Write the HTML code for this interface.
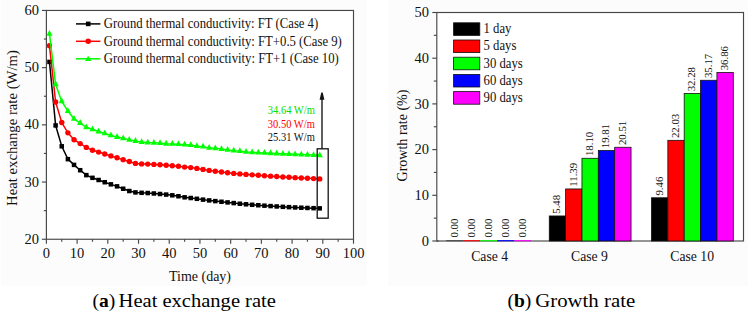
<!DOCTYPE html><html><head><meta charset="utf-8"><style>html,body{margin:0;padding:0;background:#fff;}svg{display:block;}</style></head><body>
<svg width="748" height="316" viewBox="0 0 748 316" style="font-family:&quot;Liberation Serif&quot;, serif;">
<rect x="0" y="0" width="748" height="316" fill="#ffffff"/>
<rect x="1" y="0" width="365.5" height="286" fill="#fcfcfc"/>
<rect x="388" y="0" width="360" height="286" fill="#fcfcfc"/>
<rect x="46.4" y="10.45" width="307.10" height="228.80" fill="#ffffff" stroke="#474747" stroke-width="1.15"/>
<line x1="41.90" y1="239.25" x2="46.4" y2="239.25" stroke="#474747" stroke-width="1.15"/>
<text x="39" y="243.85" font-size="14.5" text-anchor="end" fill="#111">20</text>
<line x1="43.90" y1="210.65" x2="46.4" y2="210.65" stroke="#474747" stroke-width="1.15"/>
<line x1="41.90" y1="182.05" x2="46.4" y2="182.05" stroke="#474747" stroke-width="1.15"/>
<text x="39" y="186.65" font-size="14.5" text-anchor="end" fill="#111">30</text>
<line x1="43.90" y1="153.45" x2="46.4" y2="153.45" stroke="#474747" stroke-width="1.15"/>
<line x1="41.90" y1="124.85" x2="46.4" y2="124.85" stroke="#474747" stroke-width="1.15"/>
<text x="39" y="129.45" font-size="14.5" text-anchor="end" fill="#111">40</text>
<line x1="43.90" y1="96.25" x2="46.4" y2="96.25" stroke="#474747" stroke-width="1.15"/>
<line x1="41.90" y1="67.65" x2="46.4" y2="67.65" stroke="#474747" stroke-width="1.15"/>
<text x="39" y="72.25" font-size="14.5" text-anchor="end" fill="#111">50</text>
<line x1="43.90" y1="39.05" x2="46.4" y2="39.05" stroke="#474747" stroke-width="1.15"/>
<line x1="41.90" y1="10.45" x2="46.4" y2="10.45" stroke="#474747" stroke-width="1.15"/>
<text x="39" y="15.05" font-size="14.5" text-anchor="end" fill="#111">60</text>
<line x1="46.40" y1="239.25" x2="46.40" y2="243.75" stroke="#474747" stroke-width="1.15"/>
<text x="46.40" y="258" font-size="14.5" text-anchor="middle" fill="#111">0</text>
<line x1="61.75" y1="239.25" x2="61.75" y2="241.75" stroke="#474747" stroke-width="1.15"/>
<line x1="77.11" y1="239.25" x2="77.11" y2="243.75" stroke="#474747" stroke-width="1.15"/>
<text x="77.11" y="258" font-size="14.5" text-anchor="middle" fill="#111">10</text>
<line x1="92.47" y1="239.25" x2="92.47" y2="241.75" stroke="#474747" stroke-width="1.15"/>
<line x1="107.82" y1="239.25" x2="107.82" y2="243.75" stroke="#474747" stroke-width="1.15"/>
<text x="107.82" y="258" font-size="14.5" text-anchor="middle" fill="#111">20</text>
<line x1="123.18" y1="239.25" x2="123.18" y2="241.75" stroke="#474747" stroke-width="1.15"/>
<line x1="138.53" y1="239.25" x2="138.53" y2="243.75" stroke="#474747" stroke-width="1.15"/>
<text x="138.53" y="258" font-size="14.5" text-anchor="middle" fill="#111">30</text>
<line x1="153.88" y1="239.25" x2="153.88" y2="241.75" stroke="#474747" stroke-width="1.15"/>
<line x1="169.24" y1="239.25" x2="169.24" y2="243.75" stroke="#474747" stroke-width="1.15"/>
<text x="169.24" y="258" font-size="14.5" text-anchor="middle" fill="#111">40</text>
<line x1="184.60" y1="239.25" x2="184.60" y2="241.75" stroke="#474747" stroke-width="1.15"/>
<line x1="199.95" y1="239.25" x2="199.95" y2="243.75" stroke="#474747" stroke-width="1.15"/>
<text x="199.95" y="258" font-size="14.5" text-anchor="middle" fill="#111">50</text>
<line x1="215.31" y1="239.25" x2="215.31" y2="241.75" stroke="#474747" stroke-width="1.15"/>
<line x1="230.66" y1="239.25" x2="230.66" y2="243.75" stroke="#474747" stroke-width="1.15"/>
<text x="230.66" y="258" font-size="14.5" text-anchor="middle" fill="#111">60</text>
<line x1="246.02" y1="239.25" x2="246.02" y2="241.75" stroke="#474747" stroke-width="1.15"/>
<line x1="261.37" y1="239.25" x2="261.37" y2="243.75" stroke="#474747" stroke-width="1.15"/>
<text x="261.37" y="258" font-size="14.5" text-anchor="middle" fill="#111">70</text>
<line x1="276.72" y1="239.25" x2="276.72" y2="241.75" stroke="#474747" stroke-width="1.15"/>
<line x1="292.08" y1="239.25" x2="292.08" y2="243.75" stroke="#474747" stroke-width="1.15"/>
<text x="292.08" y="258" font-size="14.5" text-anchor="middle" fill="#111">80</text>
<line x1="307.44" y1="239.25" x2="307.44" y2="241.75" stroke="#474747" stroke-width="1.15"/>
<line x1="322.79" y1="239.25" x2="322.79" y2="243.75" stroke="#474747" stroke-width="1.15"/>
<text x="322.79" y="258" font-size="14.5" text-anchor="middle" fill="#111">90</text>
<line x1="338.15" y1="239.25" x2="338.15" y2="241.75" stroke="#474747" stroke-width="1.15"/>
<line x1="353.50" y1="239.25" x2="353.50" y2="243.75" stroke="#474747" stroke-width="1.15"/>
<text x="353.50" y="258" font-size="14.5" text-anchor="middle" fill="#111">100</text>
<text x="169" y="280.7" font-size="13.8" textLength="62" lengthAdjust="spacingAndGlyphs" fill="#111">Time (day)</text>
<text transform="translate(17,206) rotate(-90)" x="0" y="0" font-size="14.2" textLength="156" lengthAdjust="spacingAndGlyphs" fill="#111">Heat exchange rate (W/m)</text>
<path d="M49.47,61.93 L55.61,125.42 L61.75,146.30 L67.90,159.17 L74.04,164.89 L80.18,170.21 L86.32,175.13 L92.47,177.82 L98.61,179.99 L104.75,182.22 L110.89,184.34 L117.03,186.34 L123.18,188.74 L129.32,191.03 L135.46,192.40 L141.60,192.80 L147.74,193.03 L153.88,193.49 L160.03,194.00 L166.17,194.58 L172.31,195.32 L178.45,196.24 L184.60,197.32 L190.74,198.01 L196.88,198.80 L203.02,199.63 L209.16,200.41 L215.31,201.11 L221.45,201.77 L227.59,202.41 L233.73,203.08 L239.87,203.74 L246.02,204.30 L252.16,204.78 L258.30,205.24 L264.44,205.68 L270.58,206.08 L276.72,206.46 L282.87,206.82 L289.01,207.14 L295.15,207.44 L301.29,207.71 L307.44,207.95 L313.58,208.17 L319.72,208.36" fill="none" stroke="#000000" stroke-width="1.5"/>
<rect x="47.22" y="59.68" width="4.5" height="4.5" fill="#000"/>
<rect x="53.36" y="123.17" width="4.5" height="4.5" fill="#000"/>
<rect x="59.50" y="144.05" width="4.5" height="4.5" fill="#000"/>
<rect x="65.65" y="156.92" width="4.5" height="4.5" fill="#000"/>
<rect x="71.79" y="162.64" width="4.5" height="4.5" fill="#000"/>
<rect x="77.93" y="167.96" width="4.5" height="4.5" fill="#000"/>
<rect x="84.07" y="172.88" width="4.5" height="4.5" fill="#000"/>
<rect x="90.22" y="175.57" width="4.5" height="4.5" fill="#000"/>
<rect x="96.36" y="177.74" width="4.5" height="4.5" fill="#000"/>
<rect x="102.50" y="179.97" width="4.5" height="4.5" fill="#000"/>
<rect x="108.64" y="182.09" width="4.5" height="4.5" fill="#000"/>
<rect x="114.78" y="184.09" width="4.5" height="4.5" fill="#000"/>
<rect x="120.93" y="186.49" width="4.5" height="4.5" fill="#000"/>
<rect x="127.07" y="188.78" width="4.5" height="4.5" fill="#000"/>
<rect x="133.21" y="190.15" width="4.5" height="4.5" fill="#000"/>
<rect x="139.35" y="190.55" width="4.5" height="4.5" fill="#000"/>
<rect x="145.49" y="190.78" width="4.5" height="4.5" fill="#000"/>
<rect x="151.63" y="191.24" width="4.5" height="4.5" fill="#000"/>
<rect x="157.78" y="191.75" width="4.5" height="4.5" fill="#000"/>
<rect x="163.92" y="192.33" width="4.5" height="4.5" fill="#000"/>
<rect x="170.06" y="193.07" width="4.5" height="4.5" fill="#000"/>
<rect x="176.20" y="193.99" width="4.5" height="4.5" fill="#000"/>
<rect x="182.35" y="195.07" width="4.5" height="4.5" fill="#000"/>
<rect x="188.49" y="195.76" width="4.5" height="4.5" fill="#000"/>
<rect x="194.63" y="196.55" width="4.5" height="4.5" fill="#000"/>
<rect x="200.77" y="197.38" width="4.5" height="4.5" fill="#000"/>
<rect x="206.91" y="198.16" width="4.5" height="4.5" fill="#000"/>
<rect x="213.06" y="198.86" width="4.5" height="4.5" fill="#000"/>
<rect x="219.20" y="199.52" width="4.5" height="4.5" fill="#000"/>
<rect x="225.34" y="200.16" width="4.5" height="4.5" fill="#000"/>
<rect x="231.48" y="200.83" width="4.5" height="4.5" fill="#000"/>
<rect x="237.62" y="201.49" width="4.5" height="4.5" fill="#000"/>
<rect x="243.77" y="202.05" width="4.5" height="4.5" fill="#000"/>
<rect x="249.91" y="202.53" width="4.5" height="4.5" fill="#000"/>
<rect x="256.05" y="202.99" width="4.5" height="4.5" fill="#000"/>
<rect x="262.19" y="203.43" width="4.5" height="4.5" fill="#000"/>
<rect x="268.33" y="203.83" width="4.5" height="4.5" fill="#000"/>
<rect x="274.47" y="204.21" width="4.5" height="4.5" fill="#000"/>
<rect x="280.62" y="204.57" width="4.5" height="4.5" fill="#000"/>
<rect x="286.76" y="204.89" width="4.5" height="4.5" fill="#000"/>
<rect x="292.90" y="205.19" width="4.5" height="4.5" fill="#000"/>
<rect x="299.04" y="205.46" width="4.5" height="4.5" fill="#000"/>
<rect x="305.19" y="205.70" width="4.5" height="4.5" fill="#000"/>
<rect x="311.33" y="205.92" width="4.5" height="4.5" fill="#000"/>
<rect x="317.47" y="206.11" width="4.5" height="4.5" fill="#000"/>
<path d="M49.47,45.63 L55.61,101.97 L61.75,122.56 L67.90,132.86 L74.04,139.72 L80.18,143.61 L86.32,147.39 L92.47,150.19 L98.61,152.08 L104.75,154.02 L110.89,155.91 L117.03,157.68 L123.18,159.63 L129.32,161.57 L135.46,163.40 L141.60,163.92 L147.74,164.09 L153.88,164.38 L160.03,164.72 L166.17,165.23 L172.31,165.69 L178.45,166.32 L184.60,167.12 L190.74,167.58 L196.88,168.38 L203.02,169.41 L209.16,170.38 L215.31,171.25 L221.45,172.07 L227.59,172.78 L233.73,173.38 L239.87,173.90 L246.02,174.39 L252.16,174.85 L258.30,175.31 L264.44,175.74 L270.58,176.15 L276.72,176.55 L282.87,176.93 L289.01,177.30 L295.15,177.65 L301.29,177.98 L307.44,178.30 L313.58,178.61 L319.72,178.90" fill="none" stroke="#ff0000" stroke-width="1.5"/>
<circle cx="49.47" cy="45.63" r="2.7" fill="#ff0000"/>
<circle cx="55.61" cy="101.97" r="2.7" fill="#ff0000"/>
<circle cx="61.75" cy="122.56" r="2.7" fill="#ff0000"/>
<circle cx="67.90" cy="132.86" r="2.7" fill="#ff0000"/>
<circle cx="74.04" cy="139.72" r="2.7" fill="#ff0000"/>
<circle cx="80.18" cy="143.61" r="2.7" fill="#ff0000"/>
<circle cx="86.32" cy="147.39" r="2.7" fill="#ff0000"/>
<circle cx="92.47" cy="150.19" r="2.7" fill="#ff0000"/>
<circle cx="98.61" cy="152.08" r="2.7" fill="#ff0000"/>
<circle cx="104.75" cy="154.02" r="2.7" fill="#ff0000"/>
<circle cx="110.89" cy="155.91" r="2.7" fill="#ff0000"/>
<circle cx="117.03" cy="157.68" r="2.7" fill="#ff0000"/>
<circle cx="123.18" cy="159.63" r="2.7" fill="#ff0000"/>
<circle cx="129.32" cy="161.57" r="2.7" fill="#ff0000"/>
<circle cx="135.46" cy="163.40" r="2.7" fill="#ff0000"/>
<circle cx="141.60" cy="163.92" r="2.7" fill="#ff0000"/>
<circle cx="147.74" cy="164.09" r="2.7" fill="#ff0000"/>
<circle cx="153.88" cy="164.38" r="2.7" fill="#ff0000"/>
<circle cx="160.03" cy="164.72" r="2.7" fill="#ff0000"/>
<circle cx="166.17" cy="165.23" r="2.7" fill="#ff0000"/>
<circle cx="172.31" cy="165.69" r="2.7" fill="#ff0000"/>
<circle cx="178.45" cy="166.32" r="2.7" fill="#ff0000"/>
<circle cx="184.60" cy="167.12" r="2.7" fill="#ff0000"/>
<circle cx="190.74" cy="167.58" r="2.7" fill="#ff0000"/>
<circle cx="196.88" cy="168.38" r="2.7" fill="#ff0000"/>
<circle cx="203.02" cy="169.41" r="2.7" fill="#ff0000"/>
<circle cx="209.16" cy="170.38" r="2.7" fill="#ff0000"/>
<circle cx="215.31" cy="171.25" r="2.7" fill="#ff0000"/>
<circle cx="221.45" cy="172.07" r="2.7" fill="#ff0000"/>
<circle cx="227.59" cy="172.78" r="2.7" fill="#ff0000"/>
<circle cx="233.73" cy="173.38" r="2.7" fill="#ff0000"/>
<circle cx="239.87" cy="173.90" r="2.7" fill="#ff0000"/>
<circle cx="246.02" cy="174.39" r="2.7" fill="#ff0000"/>
<circle cx="252.16" cy="174.85" r="2.7" fill="#ff0000"/>
<circle cx="258.30" cy="175.31" r="2.7" fill="#ff0000"/>
<circle cx="264.44" cy="175.74" r="2.7" fill="#ff0000"/>
<circle cx="270.58" cy="176.15" r="2.7" fill="#ff0000"/>
<circle cx="276.72" cy="176.55" r="2.7" fill="#ff0000"/>
<circle cx="282.87" cy="176.93" r="2.7" fill="#ff0000"/>
<circle cx="289.01" cy="177.30" r="2.7" fill="#ff0000"/>
<circle cx="295.15" cy="177.65" r="2.7" fill="#ff0000"/>
<circle cx="301.29" cy="177.98" r="2.7" fill="#ff0000"/>
<circle cx="307.44" cy="178.30" r="2.7" fill="#ff0000"/>
<circle cx="313.58" cy="178.61" r="2.7" fill="#ff0000"/>
<circle cx="319.72" cy="178.90" r="2.7" fill="#ff0000"/>
<path d="M49.47,33.90 L55.61,84.24 L61.75,101.40 L67.90,111.12 L74.04,118.84 L80.18,123.02 L86.32,127.42 L92.47,129.31 L98.61,131.49 L104.75,133.43 L110.89,135.43 L117.03,136.98 L123.18,138.29 L129.32,139.89 L135.46,140.98 L141.60,142.12 L147.74,142.58 L153.88,142.81 L160.03,143.10 L166.17,143.73 L172.31,143.90 L178.45,144.18 L184.60,144.70 L190.74,145.10 L196.88,146.19 L203.02,146.70 L209.16,147.90 L215.31,148.30 L221.45,149.10 L227.59,149.90 L233.73,150.70 L239.87,151.10 L246.02,151.91 L252.16,152.33 L258.30,152.63 L264.44,152.92 L270.58,153.23 L276.72,153.52 L282.87,153.81 L289.01,154.08 L295.15,154.34 L301.29,154.59 L307.44,154.83 L313.58,155.06 L319.72,155.28" fill="none" stroke="#00ff00" stroke-width="1.5"/>
<path d="M49.47,30.00 L52.57,35.80 L46.37,35.80 Z" fill="#00ff00"/>
<path d="M55.61,80.34 L58.71,86.14 L52.51,86.14 Z" fill="#00ff00"/>
<path d="M61.75,97.50 L64.85,103.30 L58.65,103.30 Z" fill="#00ff00"/>
<path d="M67.90,107.22 L71.00,113.02 L64.80,113.02 Z" fill="#00ff00"/>
<path d="M74.04,114.94 L77.14,120.74 L70.94,120.74 Z" fill="#00ff00"/>
<path d="M80.18,119.12 L83.28,124.92 L77.08,124.92 Z" fill="#00ff00"/>
<path d="M86.32,123.52 L89.42,129.32 L83.22,129.32 Z" fill="#00ff00"/>
<path d="M92.47,125.41 L95.56,131.21 L89.37,131.21 Z" fill="#00ff00"/>
<path d="M98.61,127.59 L101.71,133.39 L95.51,133.39 Z" fill="#00ff00"/>
<path d="M104.75,129.53 L107.85,135.33 L101.65,135.33 Z" fill="#00ff00"/>
<path d="M110.89,131.53 L113.99,137.33 L107.79,137.33 Z" fill="#00ff00"/>
<path d="M117.03,133.08 L120.13,138.88 L113.93,138.88 Z" fill="#00ff00"/>
<path d="M123.18,134.39 L126.28,140.19 L120.08,140.19 Z" fill="#00ff00"/>
<path d="M129.32,135.99 L132.42,141.79 L126.22,141.79 Z" fill="#00ff00"/>
<path d="M135.46,137.08 L138.56,142.88 L132.36,142.88 Z" fill="#00ff00"/>
<path d="M141.60,138.22 L144.70,144.02 L138.50,144.02 Z" fill="#00ff00"/>
<path d="M147.74,138.68 L150.84,144.48 L144.64,144.48 Z" fill="#00ff00"/>
<path d="M153.88,138.91 L156.98,144.71 L150.78,144.71 Z" fill="#00ff00"/>
<path d="M160.03,139.20 L163.13,145.00 L156.93,145.00 Z" fill="#00ff00"/>
<path d="M166.17,139.83 L169.27,145.63 L163.07,145.63 Z" fill="#00ff00"/>
<path d="M172.31,140.00 L175.41,145.80 L169.21,145.80 Z" fill="#00ff00"/>
<path d="M178.45,140.28 L181.55,146.08 L175.35,146.08 Z" fill="#00ff00"/>
<path d="M184.60,140.80 L187.70,146.60 L181.50,146.60 Z" fill="#00ff00"/>
<path d="M190.74,141.20 L193.84,147.00 L187.64,147.00 Z" fill="#00ff00"/>
<path d="M196.88,142.29 L199.98,148.09 L193.78,148.09 Z" fill="#00ff00"/>
<path d="M203.02,142.80 L206.12,148.60 L199.92,148.60 Z" fill="#00ff00"/>
<path d="M209.16,144.00 L212.26,149.80 L206.06,149.80 Z" fill="#00ff00"/>
<path d="M215.31,144.40 L218.41,150.20 L212.21,150.20 Z" fill="#00ff00"/>
<path d="M221.45,145.20 L224.55,151.00 L218.35,151.00 Z" fill="#00ff00"/>
<path d="M227.59,146.00 L230.69,151.80 L224.49,151.80 Z" fill="#00ff00"/>
<path d="M233.73,146.80 L236.83,152.60 L230.63,152.60 Z" fill="#00ff00"/>
<path d="M239.87,147.20 L242.97,153.00 L236.77,153.00 Z" fill="#00ff00"/>
<path d="M246.02,148.01 L249.12,153.81 L242.92,153.81 Z" fill="#00ff00"/>
<path d="M252.16,148.43 L255.26,154.23 L249.06,154.23 Z" fill="#00ff00"/>
<path d="M258.30,148.73 L261.40,154.53 L255.20,154.53 Z" fill="#00ff00"/>
<path d="M264.44,149.02 L267.54,154.82 L261.34,154.82 Z" fill="#00ff00"/>
<path d="M270.58,149.33 L273.68,155.13 L267.48,155.13 Z" fill="#00ff00"/>
<path d="M276.72,149.62 L279.82,155.42 L273.62,155.42 Z" fill="#00ff00"/>
<path d="M282.87,149.91 L285.97,155.71 L279.77,155.71 Z" fill="#00ff00"/>
<path d="M289.01,150.18 L292.11,155.98 L285.91,155.98 Z" fill="#00ff00"/>
<path d="M295.15,150.44 L298.25,156.24 L292.05,156.24 Z" fill="#00ff00"/>
<path d="M301.29,150.69 L304.39,156.49 L298.19,156.49 Z" fill="#00ff00"/>
<path d="M307.44,150.93 L310.54,156.73 L304.33,156.73 Z" fill="#00ff00"/>
<path d="M313.58,151.16 L316.68,156.96 L310.48,156.96 Z" fill="#00ff00"/>
<path d="M319.72,151.38 L322.82,157.18 L316.62,157.18 Z" fill="#00ff00"/>
<line x1="76" y1="23.9" x2="100.4" y2="23.9" stroke="#000000" stroke-width="1.5"/>
<rect x="85.90" y="21.60" width="4.6" height="4.6" fill="#000"/>
<text transform="translate(103.8,28.10) scale(1,1.15)" x="0" y="0" font-size="12.8" textLength="214.4" lengthAdjust="spacingAndGlyphs" fill="#111">Ground thermal conductivity: FT (Case 4)</text>
<line x1="76" y1="41.3" x2="100.4" y2="41.3" stroke="#ff0000" stroke-width="1.5"/>
<circle cx="88.20" cy="41.30" r="2.75" fill="#ff0000"/>
<text transform="translate(103.8,45.50) scale(1,1.15)" x="0" y="0" font-size="12.8" textLength="238" lengthAdjust="spacingAndGlyphs" fill="#111">Ground thermal conductivity: FT+0.5 (Case 9)</text>
<line x1="76" y1="58.8" x2="100.4" y2="58.8" stroke="#00ff00" stroke-width="1.5"/>
<path d="M88.20,55.80 L91.40,61.00 L85.00,61.00 Z" fill="#00ff00"/>
<text transform="translate(103.8,63.00) scale(1,1.15)" x="0" y="0" font-size="12.8" textLength="235" lengthAdjust="spacingAndGlyphs" fill="#111">Ground thermal conductivity: FT+1 (Case 10)</text>
<text x="267.8" y="114.3" font-size="11.6" textLength="47" lengthAdjust="spacingAndGlyphs" fill="#00e000">34.64 W/m</text>
<text x="267.8" y="127.8" font-size="11.6" textLength="47" lengthAdjust="spacingAndGlyphs" fill="#ff0000">30.50 W/m</text>
<text x="267.8" y="141.3" font-size="11.6" textLength="47" lengthAdjust="spacingAndGlyphs" fill="#111">25.31 W/m</text>
<rect x="317.2" y="148.8" width="11" height="69.4" fill="none" stroke="#111" stroke-width="1.3"/>
<line x1="322.0" y1="148.8" x2="322.0" y2="98" stroke="#111" stroke-width="1.35"/>
<path d="M321.3,92.6 L322.7,92.6 L324.4,99.8 L319.6,99.8 Z" fill="#111"/>
<rect x="436.8" y="12.5" width="306.70" height="228.50" fill="#ffffff" stroke="#474747" stroke-width="1.15"/>
<line x1="432.30" y1="241.00" x2="436.8" y2="241.00" stroke="#474747" stroke-width="1.15"/>
<text x="429" y="245.60" font-size="14.5" text-anchor="end" fill="#111">0</text>
<line x1="433.80" y1="218.15" x2="436.8" y2="218.15" stroke="#474747" stroke-width="1.15"/>
<line x1="432.30" y1="195.30" x2="436.8" y2="195.30" stroke="#474747" stroke-width="1.15"/>
<text x="429" y="199.90" font-size="14.5" text-anchor="end" fill="#111">10</text>
<line x1="433.80" y1="172.45" x2="436.8" y2="172.45" stroke="#474747" stroke-width="1.15"/>
<line x1="432.30" y1="149.60" x2="436.8" y2="149.60" stroke="#474747" stroke-width="1.15"/>
<text x="429" y="154.20" font-size="14.5" text-anchor="end" fill="#111">20</text>
<line x1="433.80" y1="126.75" x2="436.8" y2="126.75" stroke="#474747" stroke-width="1.15"/>
<line x1="432.30" y1="103.90" x2="436.8" y2="103.90" stroke="#474747" stroke-width="1.15"/>
<text x="429" y="108.50" font-size="14.5" text-anchor="end" fill="#111">30</text>
<line x1="433.80" y1="81.05" x2="436.8" y2="81.05" stroke="#474747" stroke-width="1.15"/>
<line x1="432.30" y1="58.20" x2="436.8" y2="58.20" stroke="#474747" stroke-width="1.15"/>
<text x="429" y="62.80" font-size="14.5" text-anchor="end" fill="#111">40</text>
<line x1="433.80" y1="35.35" x2="436.8" y2="35.35" stroke="#474747" stroke-width="1.15"/>
<line x1="432.30" y1="12.50" x2="436.8" y2="12.50" stroke="#474747" stroke-width="1.15"/>
<text x="429" y="17.10" font-size="14.5" text-anchor="end" fill="#111">50</text>
<text transform="translate(407.3,181.5) rotate(-90)" x="0" y="0" font-size="14" textLength="92" lengthAdjust="spacingAndGlyphs" fill="#111">Growth rate (%)</text>
<line x1="446.20" y1="240.7" x2="463.20" y2="240.7" stroke="#474747" stroke-width="1.1"/>
<text transform="translate(457.60,237.50) rotate(-90)" x="0" y="0" font-size="10.8" fill="#111">0.00</text>
<line x1="463.20" y1="240.7" x2="480.20" y2="240.7" stroke="#ff0000" stroke-width="1.1"/>
<text transform="translate(474.60,237.50) rotate(-90)" x="0" y="0" font-size="10.8" fill="#111">0.00</text>
<line x1="480.20" y1="240.7" x2="497.20" y2="240.7" stroke="#00ff00" stroke-width="1.1"/>
<text transform="translate(491.60,237.50) rotate(-90)" x="0" y="0" font-size="10.8" fill="#111">0.00</text>
<line x1="497.20" y1="240.7" x2="514.20" y2="240.7" stroke="#0000ff" stroke-width="1.1"/>
<text transform="translate(508.60,237.50) rotate(-90)" x="0" y="0" font-size="10.8" fill="#111">0.00</text>
<line x1="514.20" y1="240.7" x2="531.20" y2="240.7" stroke="#ff00ff" stroke-width="1.1"/>
<text transform="translate(525.60,237.50) rotate(-90)" x="0" y="0" font-size="10.8" fill="#111">0.00</text>
<text x="489.62" y="261.2" font-size="13.7" text-anchor="middle" fill="#111">Case 4</text>
<rect x="549.26" y="215.96" width="16.36" height="25.04" fill="#000000" stroke="#111" stroke-width="0.8"/>
<text transform="translate(560.34,213.76) rotate(-90)" x="0" y="0" font-size="10.8" fill="#111">5.48</text>
<rect x="565.61" y="188.95" width="16.36" height="52.05" fill="#ff0000" stroke="#111" stroke-width="0.8"/>
<text transform="translate(576.69,186.75) rotate(-90)" x="0" y="0" font-size="10.8" fill="#111">11.39</text>
<rect x="581.97" y="158.28" width="16.36" height="82.72" fill="#00ff00" stroke="#111" stroke-width="0.8"/>
<text transform="translate(593.05,156.08) rotate(-90)" x="0" y="0" font-size="10.8" fill="#111">18.10</text>
<rect x="598.33" y="150.47" width="16.36" height="90.53" fill="#0000ff" stroke="#111" stroke-width="0.8"/>
<text transform="translate(609.41,148.27) rotate(-90)" x="0" y="0" font-size="10.8" fill="#111">19.81</text>
<rect x="614.69" y="147.27" width="16.36" height="93.73" fill="#ff00ff" stroke="#111" stroke-width="0.8"/>
<text transform="translate(625.76,145.07) rotate(-90)" x="0" y="0" font-size="10.8" fill="#111">20.51</text>
<text x="589.45" y="261.2" font-size="13.7" text-anchor="middle" fill="#111">Case 9</text>
<rect x="651.49" y="197.77" width="16.36" height="43.23" fill="#000000" stroke="#111" stroke-width="0.8"/>
<text transform="translate(662.57,195.57) rotate(-90)" x="0" y="0" font-size="10.8" fill="#111">9.46</text>
<rect x="667.85" y="140.32" width="16.36" height="100.68" fill="#ff0000" stroke="#111" stroke-width="0.8"/>
<text transform="translate(678.93,138.12) rotate(-90)" x="0" y="0" font-size="10.8" fill="#111">22.03</text>
<rect x="684.20" y="93.48" width="16.36" height="147.52" fill="#00ff00" stroke="#111" stroke-width="0.8"/>
<text transform="translate(695.28,91.28) rotate(-90)" x="0" y="0" font-size="10.8" fill="#111">32.28</text>
<rect x="700.56" y="80.27" width="16.36" height="160.73" fill="#0000ff" stroke="#111" stroke-width="0.8"/>
<text transform="translate(711.64,78.07) rotate(-90)" x="0" y="0" font-size="10.8" fill="#111">35.17</text>
<rect x="716.92" y="72.55" width="16.36" height="168.45" fill="#ff00ff" stroke="#111" stroke-width="0.8"/>
<text transform="translate(728.00,70.35) rotate(-90)" x="0" y="0" font-size="10.8" fill="#111">36.86</text>
<text x="692.18" y="261.2" font-size="13.7" text-anchor="middle" fill="#111">Case 10</text>
<line x1="436.8" y1="241.0" x2="438.8" y2="241.0" stroke="#474747" stroke-width="1.15"/>
<rect x="453.6" y="22.80" width="26.2" height="12.6" fill="#000000" stroke="#111" stroke-width="0.8"/>
<text transform="translate(483.6,33.20) scale(1,1.1)" x="0" y="0" font-size="12.7" fill="#111">1 day</text>
<rect x="453.6" y="40.00" width="26.2" height="12.6" fill="#ff0000" stroke="#111" stroke-width="0.8"/>
<text transform="translate(483.6,50.40) scale(1,1.1)" x="0" y="0" font-size="12.7" fill="#111">5 days</text>
<rect x="453.6" y="57.20" width="26.2" height="12.6" fill="#00ff00" stroke="#111" stroke-width="0.8"/>
<text transform="translate(483.6,67.60) scale(1,1.1)" x="0" y="0" font-size="12.7" fill="#111">30 days</text>
<rect x="453.6" y="74.40" width="26.2" height="12.6" fill="#0000ff" stroke="#111" stroke-width="0.8"/>
<text transform="translate(483.6,84.80) scale(1,1.1)" x="0" y="0" font-size="12.7" fill="#111">60 days</text>
<rect x="453.6" y="91.60" width="26.2" height="12.6" fill="#ff00ff" stroke="#111" stroke-width="0.8"/>
<text transform="translate(483.6,102.00) scale(1,1.1)" x="0" y="0" font-size="12.7" fill="#111">90 days</text>
<text x="92.6" y="307.1" font-size="19.5" fill="#000">(<tspan font-weight="bold">a</tspan>)</text>
<text x="118.6" y="307.1" font-size="19.5" textLength="157.3" lengthAdjust="spacingAndGlyphs" fill="#000">Heat exchange rate</text>
<text x="507.4" y="307.1" font-size="19.5" fill="#000">(<tspan font-weight="bold">b</tspan>)</text>
<text x="535.2" y="307.1" font-size="19.5" textLength="100" lengthAdjust="spacingAndGlyphs" fill="#000">Growth rate</text>
</svg></body></html>
